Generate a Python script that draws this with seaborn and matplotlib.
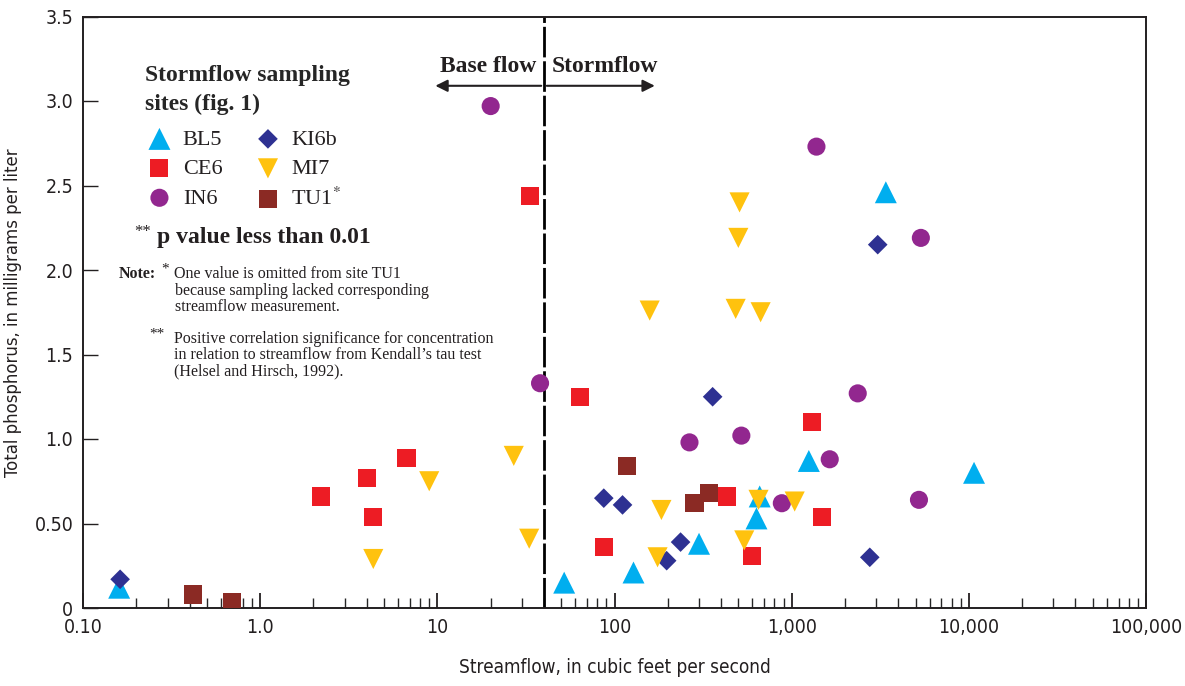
import numpy as np
import pandas as pd
import matplotlib
matplotlib.use("Agg")
import matplotlib.pyplot as plt
from matplotlib import font_manager
from matplotlib.ticker import FixedLocator, NullFormatter
import seaborn as sns

# ---------------- data ----------------
bl5_q = [0.16, 52, 128, 300, 633, 660, 1250, 3400, 10700]
bl5_p = [0.12, 0.15, 0.21, 0.38, 0.53, 0.66, 0.87, 2.46, 0.80]

ce6_q = [2.2, 4.0, 6.7, 4.35, 33.5, 64, 87, 430, 600, 1310, 1480]
ce6_p = [0.66, 0.77, 0.89, 0.54, 2.44, 1.25, 0.36, 0.66, 0.31, 1.10, 0.54]

in6_q = [20, 38, 265, 520, 880, 1640, 2360, 1380, 5360, 5230]
in6_p = [2.97, 1.33, 0.98, 1.02, 0.62, 0.88, 1.27, 2.73, 2.19, 0.64]

ki6b_q = [0.162, 87, 111, 197, 236, 358, 2760, 3060]
ki6b_p = [0.17, 0.65, 0.61, 0.28, 0.39, 1.25, 0.30, 2.15]

mi7_q = [9.0, 4.35, 27, 33, 184, 175, 540, 650, 1040, 508, 500, 483, 668, 158]
mi7_p = [0.75, 0.29, 0.90, 0.41, 0.58, 0.30, 0.40, 0.64, 0.63, 2.40, 2.19, 1.77, 1.75, 1.76]

tu1_q = [0.42, 0.695, 118, 283, 340]
tu1_p = [0.08, 0.035, 0.84, 0.62, 0.68]

site_names = ["BL5", "CE6", "IN6", "KI6b", "MI7", "TU1"]
site_labels = ["BL5", "CE6", "IN6", "KI6b", "MI7", "TU1$^{*}$"]

x_ticks = [0.1, 1, 10, 100, 1000, 10000, 100000]
x_tick_labels = ["0.10", "1.0", "10", "100", "1,000", "10,000", "100,000"]
y_ticks = [0, 0.5, 1.0, 1.5, 2.0, 2.5, 3.0, 3.5]
y_tick_labels = ["0", "0.50", "1.0", "1.5", "2.0", "2.5", "3.0", "3.5"]
threshold = 40

# ---------------- style ----------------
sns.set_style("ticks")
flist = font_manager.fontManager.ttflist
names = {f.name for f in flist}
SERIF = "Liberation Serif" if "Liberation Serif" in names else "DejaVu Serif"

# look for a condensed / narrow sans face
cond = [f for f in flist
        if f.style == "normal" and f.weight in (400, "normal", "regular")
        and (str(f.stretch) in ("condensed", "semi-condensed", "extra-condensed")
             or "Narrow" in f.name or "Condensed" in f.name)]
if cond:
    SANS = cond[0].name
    STRETCH = cond[0].stretch
    scale = 1.0
else:
    SANS = "Liberation Sans" if "Liberation Sans" in names else "DejaVu Sans"
    STRETCH = "normal"
    scale = 0.9
plt.rcParams["font.family"] = [SANS, "DejaVu Sans"]
plt.rcParams["font.stretch"] = STRETCH
plt.rcParams["mathtext.fontset"] = "stix"

colors = {"BL5": "#00AEEF", "CE6": "#ED1C24", "IN6": "#92278F",
          "KI6b": "#2E3192", "MI7": "#FFC20E", "TU1": "#8B2A24"}
markers = {"BL5": "^", "CE6": "s", "IN6": "o", "KI6b": "D", "MI7": "v", "TU1": "s"}
sizes = {"BL5": 250, "CE6": 170, "IN6": 170, "KI6b": 100, "MI7": 210, "TU1": 170}

series = {"BL5": (bl5_q, bl5_p), "CE6": (ce6_q, ce6_p), "IN6": (in6_q, in6_p),
          "KI6b": (ki6b_q, ki6b_p), "MI7": (mi7_q, mi7_p), "TU1": (tu1_q, tu1_p)}

W, H = 1185, 686
fig = plt.figure(figsize=(W / 100, H / 100), dpi=100)
ax = fig.add_axes([83 / W, 1 - 608 / H, (1146 - 83) / W, (608 - 16.5) / H])

ax.axvline(threshold, color="black", lw=2.0, ls=(0, (11, 1.4)), zorder=1)

for name, lab in zip(site_names, site_labels):
    q, p = series[name]
    df = pd.DataFrame({"q": q, "p": p})
    sns.scatterplot(data=df, x="q", y="p", ax=ax, marker=markers[name],
                    color=colors[name], s=sizes[name], edgecolor="none",
                    linewidth=0, label=lab, zorder=3)

ax.set_xscale("log")
ax.set_xlim(0.1, 100000)
ax.set_ylim(0, 3.5)
ax.set_xticks(x_ticks)
ax.set_xticklabels(x_tick_labels)
minors = [m * 10.0 ** e for e in range(-1, 5) for m in range(2, 10)]
ax.xaxis.set_minor_locator(FixedLocator(minors))
ax.xaxis.set_minor_formatter(NullFormatter())
ax.set_yticks(y_ticks)
ax.set_yticklabels(y_tick_labels)

ax.tick_params(axis="x", which="major", direction="in", length=11, width=1.3,
               labelsize=14 * scale, pad=7, colors="#231F20")
ax.tick_params(axis="x", which="minor", direction="in", length=7, width=1.0)
ax.tick_params(axis="y", which="major", direction="in", length=11, width=1.0,
               labelsize=14 * scale, pad=7, colors="#231F20")
for s in ax.spines.values():
    s.set_linewidth(1.4)
    s.set_color("#231F20")

ax.set_xlabel("Streamflow, in cubic feet per second", fontsize=13.6 * scale,
              labelpad=15, color="#231F20")
ax.set_ylabel("Total phosphorus, in milligrams per liter", fontsize=13.2 * scale,
              labelpad=9, color="#231F20")

# legend
leg = ax.legend(ncol=2, loc="upper left", bbox_to_anchor=(145 / W, 1 - 65 / H),
                bbox_transform=fig.transFigure, frameon=False,
                title="Stormflow sampling\nsites (fig. 1)",
                prop={"family": SERIF, "size": 16},
                title_fontproperties={"family": SERIF, "size": 17, "weight": "bold"},
                alignment="left", handlelength=1.3, handletextpad=0.4,
                columnspacing=1.4, labelspacing=0.4, borderpad=0, borderaxespad=0)
leg.get_title().set_linespacing(1.5)
leg._legend_box.sep = 10
for t in leg.get_texts():
    t.set_color("#231F20")

# base flow / stormflow arrows
ax.annotate("", xy=(9.4, 3.09), xytext=(threshold, 3.09),
            arrowprops=dict(arrowstyle="-|>", color="#231F20", lw=1.5, mutation_scale=18))
ax.annotate("", xy=(175, 3.09), xytext=(threshold, 3.09),
            arrowprops=dict(arrowstyle="-|>", color="#231F20", lw=1.5, mutation_scale=18))
ax.text(36, 3.205, "Base flow", ha="right", va="center", family=SERIF,
        fontsize=17, weight="bold", color="#231F20")
ax.text(44, 3.205, "Stormflow", ha="left", va="center", family=SERIF,
        fontsize=17, weight="bold", color="#231F20")


def ftext(px, py, s, **kw):
    fig.text(px / W, 1 - py / H, s, family=SERIF, color="#231F20", **kw)


ftext(134, 232, "**", fontsize=12, va="center")
ftext(157, 237, "p value less than 0.01", fontsize=17, weight="bold", va="center")

ftext(119, 274, "Note:", fontsize=11.5, weight="bold", va="center")
ftext(161, 269, "*", fontsize=11, va="center")
note1 = ["One value is omitted from site TU1",
         "because sampling lacked corresponding",
         "streamflow measurement."]
for i, line in enumerate(note1):
    ftext(174 if i == 0 else 175, 274 + 16.5 * i, line, fontsize=11.5, va="center")
ftext(149, 334, "**", fontsize=11, va="center")
note2 = ["Positive correlation significance for concentration",
         "in relation to streamflow from Kendall\u2019s tau test",
         "(Helsel and Hirsch, 1992)."]
for i, line in enumerate(note2):
    ftext(174, 339 + 16.3 * i, line, fontsize=11.5, va="center")

fig.savefig("out.png", dpi=100, facecolor="white")
